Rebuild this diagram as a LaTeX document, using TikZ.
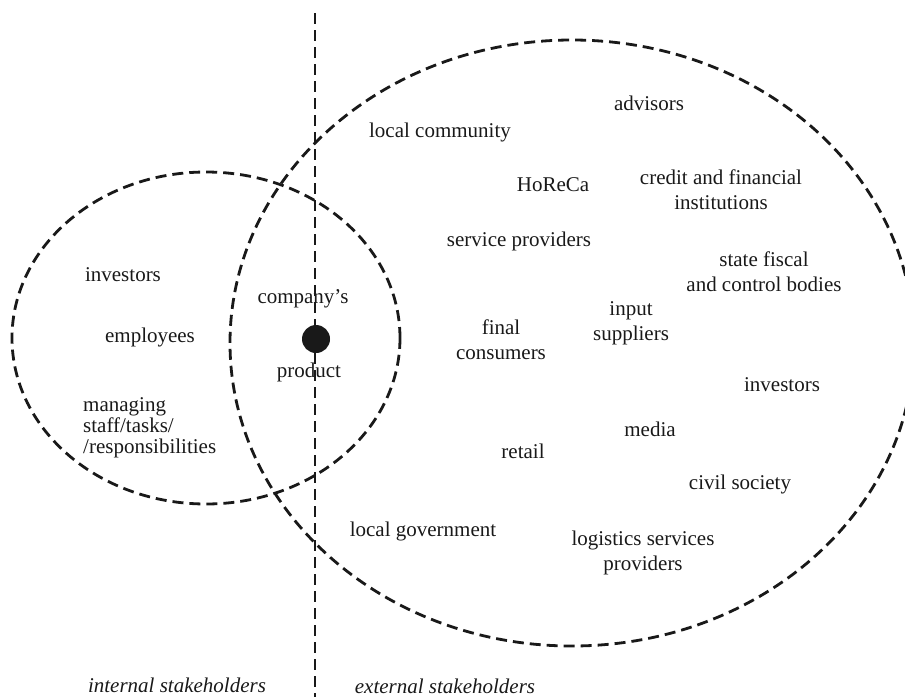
\documentclass[tikz,border=0pt]{standalone}
\usepackage{fontspec}
\setmainfont{Liberation Serif}
\begin{document}
\begin{tikzpicture}[x=1pt,y=-1pt,
  dsh/.style={line width=2.8pt,dash pattern=on 11pt off 6pt,color=black!90},
  lbl/.style={align=center,inner sep=0pt,text=black!90,font=\fontsize{21}{25}\selectfont},
  lbll/.style={align=left,inner sep=0pt,text=black!90,font=\fontsize{21}{21}\selectfont},
  ital/.style={inner sep=0pt,text=black!90,font=\fontsize{21}{25}\selectfont\itshape}]
\useasboundingbox (0,0) rectangle (905,697);
\coordinate (vtop) at (315,13);
\coordinate (vbot) at (315,697);
\draw[dsh] (vtop) -- (vbot);
\draw[dsh] (206,338) ellipse [x radius=194pt, y radius=166pt];
\draw[dsh] (572,343) ellipse [x radius=342pt, y radius=303pt];
\node[circle,fill=black!90,minimum size=28pt,inner sep=0pt] (dot) at (316,339) {};
% internal
\node[lbl] (inv1) at (123,275) {investors};
\node[lbl] (emp) at (150,337) {employees};
\node[lbll,anchor=west] (man) at (83,428) {managing\\staff/tasks/\\/responsibilities};
\node[lbl] (comp) at (303,299) {company’s};
\node[lbl] (prod) at (309,372) {product};
% external
\node[lbl] (lc) at (440,132) {local community};
\node[lbl] (adv) at (649,103) {advisors};
\node[lbl] (hor) at (553,185) {HoReCa};
\node[lbl] (cred) at (721,190) {credit and financial\\institutions};
\node[lbl] (serv) at (519,241) {service providers};
\node[lbl] (state) at (764,272) {state fiscal\\and control bodies};
\node[lbl] (inp) at (631,323) {input\\suppliers};
\node[lbl] (fin) at (501,340) {final\\consumers};
\node[lbl] (inv2) at (782,385) {investors};
\node[lbl] (med) at (650,429) {media};
\node[lbl] (ret) at (523,451) {retail};
\node[lbl] (civ) at (740,484) {civil society};
\node[lbl] (lg) at (423,531) {local government};
\node[lbl] (log) at (643,553) {logistics services\\providers};
\node[ital] (int) at (177,685) {internal stakeholders};
\node[ital] (ext) at (445,686) {external stakeholders};
\end{tikzpicture}
\end{document}
